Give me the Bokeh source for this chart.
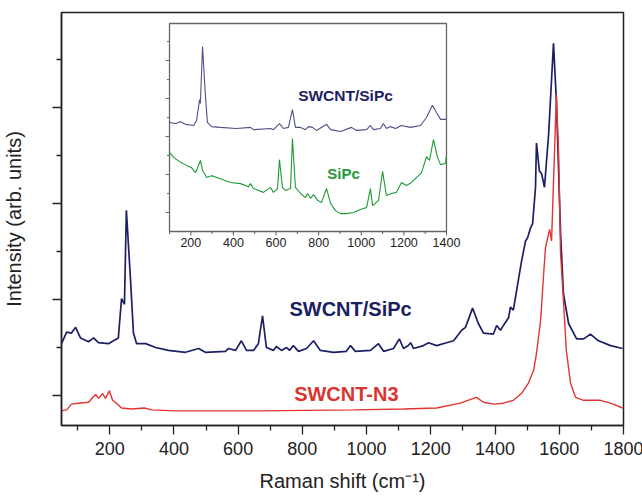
from bokeh.plotting import figure
from bokeh.models import Range1d, FixedTicker, Label, CustomLabelingPolicy
from bokeh.embed import file_html
from bokeh.resources import INLINE
from bokeh.core.properties import value

# ---------------- data ----------------
# main panel: SWCNT/SiPc
composite_wn = [50, 66, 81, 94, 109, 134, 150, 165, 196, 212, 227, 237, 246, 252, 265, 274, 284, 312, 343, 383,
                436, 477, 498, 561, 570, 592, 610, 626, 648, 663, 676, 688, 710, 719, 735, 751, 760, 772, 788, 813,
                835, 856, 897, 937, 950, 965, 1012, 1037, 1053, 1084, 1102, 1115, 1130, 1137, 1146, 1177, 1193, 1218, 1249, 1271,
                1296, 1308, 1330, 1348, 1364, 1395, 1405, 1417, 1426, 1442, 1448, 1457, 1467, 1482, 1495, 1501, 1510, 1517, 1526, 1529,
                1538, 1545, 1554, 1567, 1582, 1591, 1604, 1613, 1629, 1654, 1676, 1697, 1722, 1760, 1797]
composite_int = [0.54, 0.66, 0.65, 0.71, 0.60, 0.56, 0.60, 0.55, 0.54, 0.57, 0.60, 1.01, 0.95, 1.93, 1.20, 0.65, 0.54, 0.54, 0.50, 0.47,
                 0.45, 0.49, 0.45, 0.46, 0.49, 0.47, 0.57, 0.47, 0.47, 0.54, 0.83, 0.50, 0.47, 0.51, 0.47, 0.50, 0.47, 0.52, 0.46, 0.49,
                 0.57, 0.47, 0.45, 0.46, 0.52, 0.46, 0.47, 0.54, 0.46, 0.49, 0.59, 0.49, 0.52, 0.55, 0.49, 0.52, 0.55, 0.52, 0.55, 0.57,
                 0.68, 0.71, 0.91, 0.75, 0.65, 0.64, 0.73, 0.68, 0.73, 0.81, 0.92, 0.89, 1.09, 1.39, 1.61, 1.64, 1.74, 1.79, 2.17, 2.63,
                 2.34, 2.31, 2.17, 2.73, 3.67, 3.07, 1.69, 1.06, 0.75, 0.59, 0.59, 0.64, 0.57, 0.52, 0.49]

# main panel: SWCNT-N3
n3_wn = [50, 66, 81, 103, 134, 156, 165, 178, 187, 199, 209, 221, 237, 268, 308, 330, 405, 663, 959, 1115,
         1218, 1292, 1324, 1342, 1364, 1395, 1426, 1457, 1482, 1504, 1520, 1529, 1542, 1551, 1557, 1570, 1576, 1585, 1591, 1598,
         1604, 1613, 1622, 1635, 1651, 1676, 1728, 1760, 1797]
n3_int = [-0.16, -0.15, -0.09, -0.08, -0.07, 0.01, -0.03, 0.02, -0.03, 0.05, -0.05, -0.08, -0.13, -0.14, -0.13, -0.15, -0.16, -0.16, -0.15, -0.14,
          -0.13, -0.08, -0.04, -0.02, -0.07, -0.09, -0.08, -0.05, 0.02, 0.13, 0.26, 0.44, 0.78, 1.25, 1.54, 1.73, 1.61, 2.52, 3.13, 2.52,
          1.48, 0.99, 0.47, 0.13, -0.02, -0.05, -0.05, -0.08, -0.13]

# inset: SWCNT/SiPc
inset_comp_wn = [100, 128, 152, 175, 213, 227, 241, 245, 255, 269, 278, 297, 339, 414, 480, 494, 574, 588, 616, 635,
                 658, 677, 691, 715, 738, 752, 771, 790, 837, 856, 903, 954, 978, 1025, 1043, 1057, 1090, 1104, 1118, 1137,
                 1161, 1189, 1231, 1278, 1306, 1334, 1353, 1372, 1400]
inset_comp_int = [2.87, 2.84, 2.89, 2.82, 2.79, 2.92, 3.47, 3.37, 4.87, 3.53, 2.87, 2.76, 2.74, 2.71, 2.74, 2.68, 2.71, 2.68, 2.84, 2.71,
                  2.74, 3.21, 2.74, 2.74, 2.68, 2.76, 2.74, 2.66, 2.82, 2.68, 2.63, 2.74, 2.66, 2.68, 2.79, 2.68, 2.71, 2.84, 2.71, 2.76,
                  2.71, 2.79, 2.74, 2.79, 3.00, 3.32, 3.13, 2.95, 2.95]

# inset: SiPc
sipc_wn = [100, 119, 152, 180, 203, 222, 231, 245, 255, 274, 297, 339, 386, 433, 471, 480, 494, 541, 574, 588,
           607, 616, 630, 644, 668, 677, 691, 715, 738, 748, 762, 776, 795, 813, 837, 856, 879, 903, 931, 964,
           996, 1025, 1043, 1053, 1081, 1100, 1118, 1142, 1165, 1189, 1212, 1236, 1259, 1283, 1306, 1320, 1339, 1358, 1372, 1395,
           1400]
sipc_int = [2.08, 1.95, 1.82, 1.74, 1.68, 1.55, 1.66, 1.87, 1.61, 1.42, 1.47, 1.39, 1.29, 1.26, 1.18, 1.26, 1.13, 1.03, 1.16, 1.03,
            1.13, 1.89, 1.16, 1.08, 1.13, 2.45, 1.16, 1.00, 0.89, 1.00, 0.87, 0.97, 0.82, 0.76, 1.13, 0.74, 0.55, 0.47, 0.47, 0.50,
            0.58, 0.63, 1.13, 0.68, 0.82, 1.58, 0.95, 1.00, 1.03, 1.29, 1.21, 1.29, 1.42, 1.55, 1.97, 1.87, 2.42, 1.95, 1.76, 1.79,
            2.00]

# ticks
x_ticks = [200, 400, 600, 800, 1000, 1200, 1400, 1600, 1800]
x_minor_ticks = [100, 300, 500, 700, 900, 1100, 1300, 1500, 1700]
y_ticks = [0, 1, 2, 3]
y_minor_ticks = [0.5, 1.5, 2.5, 3.5]
inset_x_ticks = [200, 400, 600, 800, 1000, 1200, 1400]
inset_x_minor_ticks = [100, 300, 500, 700, 900, 1100, 1300]
inset_x_labels = ["200", "400", "600", "800", "1000", "1200", "1400"]
inset_y_ticks = [0.5, 1.5, 2.5, 3.5, 4.5]
inset_y_minor_ticks = [1, 2, 3, 4, 5]

# ---------------- styles / layout ----------------
FONT = "Liberation Sans"
NAVY = "#1b2064"
RED = "#e2352f"
GREEN = "#1f9a36"
INSET_BLUE = "#4d5186"

x_range = (50, 1800)
y_range = (-0.3125, 3.99)
inset_x_range = (100, 1400)
inset_y_range = (0, 5.474)
# inset ranges expressed over the whole main frame
inset_frame_x = (-406.9, 2230.7)
inset_frame_y = (-5.105, 5.763)

p = figure(frame_width=562, frame_height=413,
           x_range=Range1d(*x_range), y_range=Range1d(*y_range),
           output_backend="svg", toolbar_location=None,
           min_border_left=58, min_border_right=22, min_border_top=12, min_border_bottom=10)
p.extra_x_ranges = {"ix": Range1d(*inset_frame_x)}
p.extra_y_ranges = {"iy": Range1d(*inset_frame_y)}

p.grid.visible = False
p.background_fill_color = "white"
p.border_fill_color = "white"
p.outline_line_color = "#222222"
p.outline_line_width = 1.5

# axes
p.xaxis.ticker = FixedTicker(ticks=x_ticks, minor_ticks=x_minor_ticks)
p.yaxis.ticker = FixedTicker(ticks=y_ticks, minor_ticks=y_minor_ticks)
for ax in (p.xaxis, p.yaxis):
    ax.axis_line_color = "#222222"
    ax.axis_line_width = 1.5
    ax.major_tick_line_color = "#222222"
    ax.minor_tick_line_color = "#222222"
    ax.major_tick_line_width = 1.3
    ax.minor_tick_line_width = 1.3
    ax.major_tick_in = 0
    ax.major_tick_out = 9
    ax.minor_tick_in = 0
    ax.minor_tick_out = 5
    ax.axis_label_text_font = FONT
    ax.axis_label_text_font_style = "normal"
    ax.axis_label_text_font_size = "20px"
    ax.axis_label_text_color = "#222222"
    ax.major_label_text_font = FONT
    ax.major_label_text_color = "#222222"

p.xaxis.axis_label = "Raman shift (cm\u207b\u00b9)"
p.xaxis.major_label_text_font_size = "18px"
p.xaxis.major_label_standoff = 7
p.xaxis.axis_label_standoff = 12

p.yaxis.axis_label = "Intensity (arb. units)"
p.yaxis.major_label_text_font_size = "18px"
p.yaxis.major_label_policy = CustomLabelingPolicy(code="for (const i of indices) indices.unset(i)")
p.yaxis.major_label_standoff = 0
p.yaxis.axis_label_standoff = 14

# main curves
p.line(composite_wn, composite_int, line_color=NAVY, line_width=1.7)
p.line(n3_wn, n3_int, line_color=RED, line_width=1.4)

# inset box
p.quad(left=[inset_x_range[0]], right=[inset_x_range[1]],
       bottom=[inset_y_range[0]], top=[inset_y_range[1]],
       x_range_name="ix", y_range_name="iy",
       fill_color="white", line_color="#666666", line_width=1.3)

# inset curves
p.line(inset_comp_wn, inset_comp_int, line_color=INSET_BLUE, line_width=1.1,
       x_range_name="ix", y_range_name="iy")
p.line(sipc_wn, sipc_int, line_color=GREEN, line_width=1.1,
       x_range_name="ix", y_range_name="iy")

# inset ticks (outward)
x0 = inset_x_range[0]
y0 = inset_y_range[0]
major_len_y = 4 / 38.0
minor_len_y = 2.5 / 38.0
major_len_x = 4 * 4.693
minor_len_x = 2.5 * 4.693
p.segment(x0=inset_x_ticks, y0=[y0] * len(inset_x_ticks),
          x1=inset_x_ticks, y1=[y0 - major_len_y] * len(inset_x_ticks),
          line_color="#666666", line_width=1.1, x_range_name="ix", y_range_name="iy")
p.segment(x0=inset_x_minor_ticks, y0=[y0] * len(inset_x_minor_ticks),
          x1=inset_x_minor_ticks, y1=[y0 - minor_len_y] * len(inset_x_minor_ticks),
          line_color="#666666", line_width=1.1, x_range_name="ix", y_range_name="iy")
p.segment(x0=[x0] * len(inset_y_ticks), y0=inset_y_ticks,
          x1=[x0 - major_len_x] * len(inset_y_ticks), y1=inset_y_ticks,
          line_color="#666666", line_width=1.1, x_range_name="ix", y_range_name="iy")
p.segment(x0=[x0] * len(inset_y_minor_ticks), y0=inset_y_minor_ticks,
          x1=[x0 - minor_len_x] * len(inset_y_minor_ticks), y1=inset_y_minor_ticks,
          line_color="#666666", line_width=1.1, x_range_name="ix", y_range_name="iy")

# inset tick labels
p.text(x=inset_x_ticks, y=[y0] * len(inset_x_ticks), text=inset_x_labels,
       y_offset=6, text_align="center", text_baseline="top",
       text_font=value(FONT), text_font_size="12.5px", text_color="#222222",
       x_range_name="ix", y_range_name="iy")

# series labels
p.add_layout(Label(x=950, y=0.906, text="SWCNT/SiPc", text_align="center", text_baseline="middle",
                   text_font=FONT, text_font_style="bold", text_font_size="20px", text_color=NAVY))
p.add_layout(Label(x=937, y=0.02, text="SWCNT-N3", text_align="center", text_baseline="middle",
                   text_font=FONT, text_font_style="bold", text_font_size="20px", text_color="#d9342f"))
p.add_layout(Label(x=926, y=3.58, text="SWCNT/SiPc", text_align="center", text_baseline="middle",
                   text_font=FONT, text_font_style="bold", text_font_size="15.5px", text_color=NAVY,
                   x_range_name="ix", y_range_name="iy"))
p.add_layout(Label(x=917, y=1.53, text="SiPc", text_align="center", text_baseline="middle",
                   text_font=FONT, text_font_style="bold", text_font_size="15px", text_color=GREEN,
                   x_range_name="ix", y_range_name="iy"))

open("out.html", "w").write(file_html(p, INLINE))
